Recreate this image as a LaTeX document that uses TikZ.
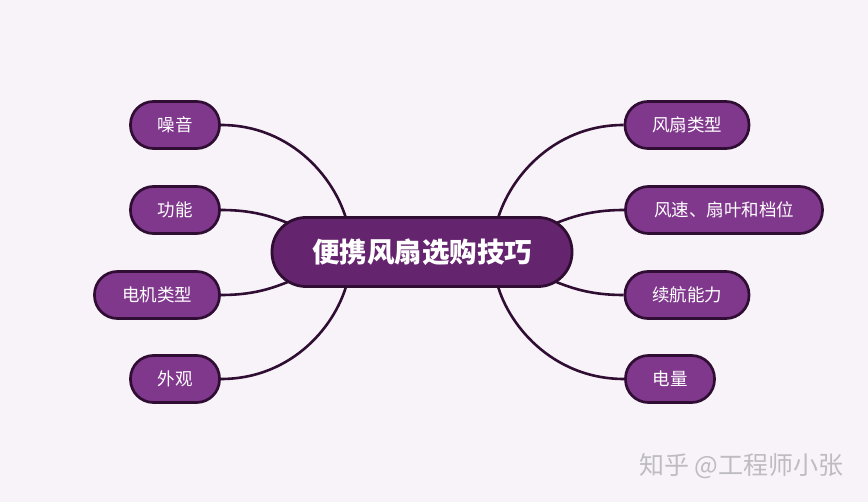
\documentclass[tikz,border=0pt]{standalone}
\usepackage{fontspec}
\setmainfont{Noto Sans CJK SC}
\newfontfamily\cjk{Noto Sans CJK SC}
\usetikzlibrary{backgrounds}
\definecolor{bgc}{RGB}{248,243,249}
\definecolor{mainfill}{RGB}{101,36,110}
\definecolor{childfill}{RGB}{128,56,141}
\definecolor{edgec}{RGB}{48,14,52}
\definecolor{wm}{RGB}{190,188,192}
\tikzset{
  mainbox/.style={draw=edgec, line width=2.8pt, fill=mainfill, rounded corners=34pt,
    minimum width=300pt, minimum height=69pt, text=white, font=\cjk\bfseries\fontsize{27.5}{31}\selectfont, inner sep=0pt},
  childbox/.style={draw=edgec, line width=2.7pt, fill=childfill, rounded corners=23pt,
    minimum height=47pt, text=white, font=\cjk\fontsize{17.5}{20}\selectfont, inner sep=0pt},
  link/.style={draw=edgec, line width=2.6pt}
}
\begin{document}
\begin{tikzpicture}[x=1pt,y=-1pt]
\useasboundingbox (0,0) rectangle (868,502);
\node[mainbox] (c) at (422,252) {便携风扇选购技巧};
\node[childbox, minimum width=89pt] (l1) at (175,125) {噪音};
\node[childbox, minimum width=89pt] (l2) at (175,210) {功能};
\node[childbox, minimum width=125pt] (l3) at (157,295) {电机类型};
\node[childbox, minimum width=89pt] (l4) at (175,379) {外观};
\node[childbox, minimum width=124pt] (r1) at (687,125) {风扇类型};
\node[childbox, minimum width=197pt] (r2) at (724,210) {风速、扇叶和档位};
\node[childbox, minimum width=124pt] (r3) at (687,295) {续航能力};
\node[childbox, minimum width=89pt] (r4) at (670,379) {电量};
\coordinate (cl1) at (348,226);
\coordinate (cl2) at (300,228);
\coordinate (cl3) at (300,277);
\coordinate (cl4) at (348,279);
\coordinate (cr1) at (496,226);
\coordinate (cr2) at (544,228);
\coordinate (cr3) at (544,277);
\coordinate (cr4) at (496,279);
\begin{scope}[on background layer]
\fill[bgc] (0,0) rectangle (868,502);
\draw[link] (l1.east) .. controls +(72,0) and +(-10,-45) .. (cl1);
\draw[link] (l2.east) .. controls +(38,0) and +(-22,-9) .. (cl2);
\draw[link] (l3.east) .. controls +(38,0) and +(-22,9) .. (cl3);
\draw[link] (l4.east) .. controls +(72,0) and +(-10,45) .. (cl4);
\draw[link] (r1.west) .. controls +(-72,0) and +(10,-45) .. (cr1);
\draw[link] (r2.west) .. controls +(-38,0) and +(22,-9) .. (cr2);
\draw[link] (r3.west) .. controls +(-38,0) and +(22,9) .. (cr3);
\draw[link] (r4.west) .. controls +(-72,0) and +(10,45) .. (cr4);
\end{scope}
\node[text=wm, font=\cjk\fontsize{25}{28}\selectfont, anchor=west, inner sep=0pt] (wmk) at (639,466) {知乎 @工程师小张};
\end{tikzpicture}
\end{document}
